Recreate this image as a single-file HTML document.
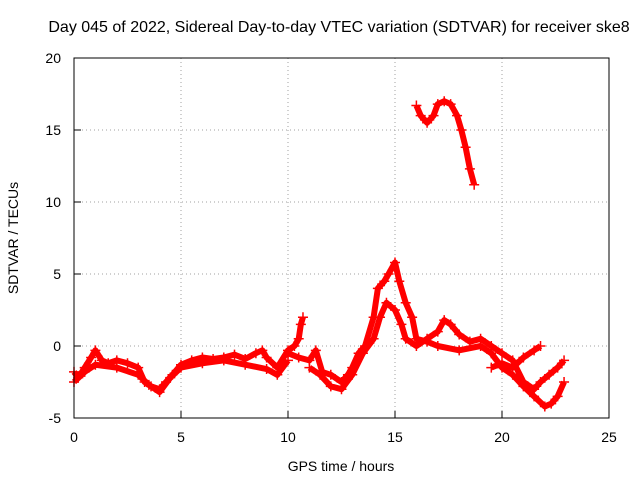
<!DOCTYPE html>
<html><head><meta charset="utf-8"><style>
body{margin:0;background:#fff;}
svg{display:block;font-family:"Liberation Sans",sans-serif;}
</style></head><body>
<svg id="chart" width="640" height="480" viewBox="0 0 640 480">
<rect width="640" height="480" fill="#fff"/>
<text x="339" y="32" font-size="16" text-anchor="middle">Day 045 of 2022, Sidereal Day-to-day VTEC variation (SDTVAR) for receiver ske8</text>
<g id="grid"></g>
<g id="series"></g>
<rect x="74" y="58" width="535" height="360" fill="none" stroke="#000" stroke-width="1"/>
<g id="ticks" font-size="14"></g>
<text x="341" y="471" font-size="14" text-anchor="middle">GPS time / hours</text>
<text transform="translate(18,238) rotate(-90)" font-size="14" text-anchor="middle">SDTVAR / TECUs</text>
</svg>
<script>
const xTicks=[0,5,10,15,20,25];
const yTicks=[-5,0,5,10,15,20];
const sAx=[0,0.2,0.5,0.8,1,1.3,1.6,2,2.5,3,3.3,3.6,4,4.3,4.6,5,5.5,6,6.5,7,7.5,8,8.5,8.8,9,9.5,10,10.3,10.5,10.6,10.7];
const sAy=[-1.8,-2.2,-1.5,-0.8,-0.3,-1,-1.2,-1,-1.2,-1.5,-2.5,-2.8,-3,-2.5,-2,-1.3,-1,-0.8,-0.9,-0.8,-0.6,-0.9,-0.5,-0.3,-0.8,-1.5,-0.3,0,0.5,1.5,2];
const sBx=[0,0.5,1,2,3,3.5,4,4.5,5,6,7,8,9,9.5,10];
const sBy=[-2.5,-1.8,-1.3,-1.5,-2,-2.7,-3.2,-2.2,-1.5,-1.2,-1,-1.3,-1.6,-2,-1];
const sCx=[10,10.5,11,11.3,11.6,12,12.5,12.8,13,13.3,13.6,14,14.2,14.5,14.7,15,15.2,15.5,15.8,16,16.5,17,18,19,19.5,20,20.5,21,21.5,22,22.3,22.6,22.9];
const sCy=[-0.5,-0.8,-1,-0.3,-1.8,-2,-2.5,-2,-1.5,-0.5,0,2,4,4.5,5,5.8,4.5,3,2,0.5,0.3,0,-0.3,0,-0.5,-1.5,-2,-2.8,-3.5,-4.2,-4,-3.5,-2.5];
const sDx=[11,11.5,12,12.5,13,13.5,14,14.3,14.6,15,15.3,15.5,16,16.5,17,17.3,17.6,18,18.5,19,19.5,20,20.5,21,21.5,21.8,22.2,22.6,22.9];
const sDy=[-1.5,-2,-2.8,-3,-2,-0.5,0.5,2,3,2.5,1.5,0.5,0,0.5,1,1.8,1.5,0.8,0.3,0.5,0,-0.5,-1,-2.5,-3,-2.5,-2,-1.5,-1];
const sEx=[19.5,20,20.5,21,21.5,21.8];
const sEy=[-1.5,-1.2,-1.5,-0.8,-0.3,0];
const sFx=[16,16.2,16.5,16.8,17,17.3,17.6,17.9,18.1,18.3,18.5,18.7];
const sFy=[16.7,16,15.5,16,16.8,17,16.8,16,15,13.8,12.3,11.2];
const seriesList=[[sAx,sAy],[sBx,sBy],[sCx,sCy],[sDx,sDy],[sEx,sEy],[sFx,sFy]];
const NS="http://www.w3.org/2000/svg";
const X=v=>74+(v-0)/25*535;
const Y=v=>418-(v+5)/25*360;
const grid=document.getElementById('grid'),ticks=document.getElementById('ticks'),ser=document.getElementById('series');
function mk(tag,attrs,parent){const e=document.createElementNS(NS,tag);for(const k in attrs)e.setAttribute(k,attrs[k]);parent.appendChild(e);return e;}
xTicks.forEach(t=>{
  if(t>0&&t<25){const g=mk('line',{x1:X(t),x2:X(t),y1:58,y2:418,stroke:'#a0a0a0','stroke-dasharray':'1,3'},grid);
  
  }
  const tl=mk('line',{x1:X(t),x2:X(t),y1:418,y2:411,stroke:'#000'},ticks);
  
  
  const tx=mk('text',{x:X(t),y:442,'text-anchor':'middle'},ticks);tx.textContent=t;
  
  
});
yTicks.forEach(t=>{
  if(t>-5&&t<20){const g=mk('line',{x1:74,x2:609,y1:Y(t),y2:Y(t),stroke:'#a0a0a0','stroke-dasharray':'1,3'},grid);
  
  }
  const tl=mk('line',{x1:74,x2:81,y1:Y(t),y2:Y(t),stroke:'#000'},ticks);
  
  
  const tx=mk('text',{x:61,y:Y(t)+5,'text-anchor':'end'},ticks);tx.textContent=t;
  
  
});
seriesList.forEach((s,i)=>{
  const g=mk('g',{},ser);
  
  
  const pts=s[0].map((x,j)=>X(x)+','+Y(s[1][j])).join(' ');
  mk('polyline',{points:pts,fill:'none',stroke:'#f00','stroke-width':6,'stroke-linejoin':'round'},g);
  s[0].forEach((x,j)=>{
    const cx=X(x),cy=Y(s[1][j]);
    const p=mk('path',{d:`M${cx-5},${cy}H${cx+5}M${cx},${cy-5}V${cy+5}`,stroke:'#f00','stroke-width':1.5},g);
    
    
  });
});
</script>
</body></html>
